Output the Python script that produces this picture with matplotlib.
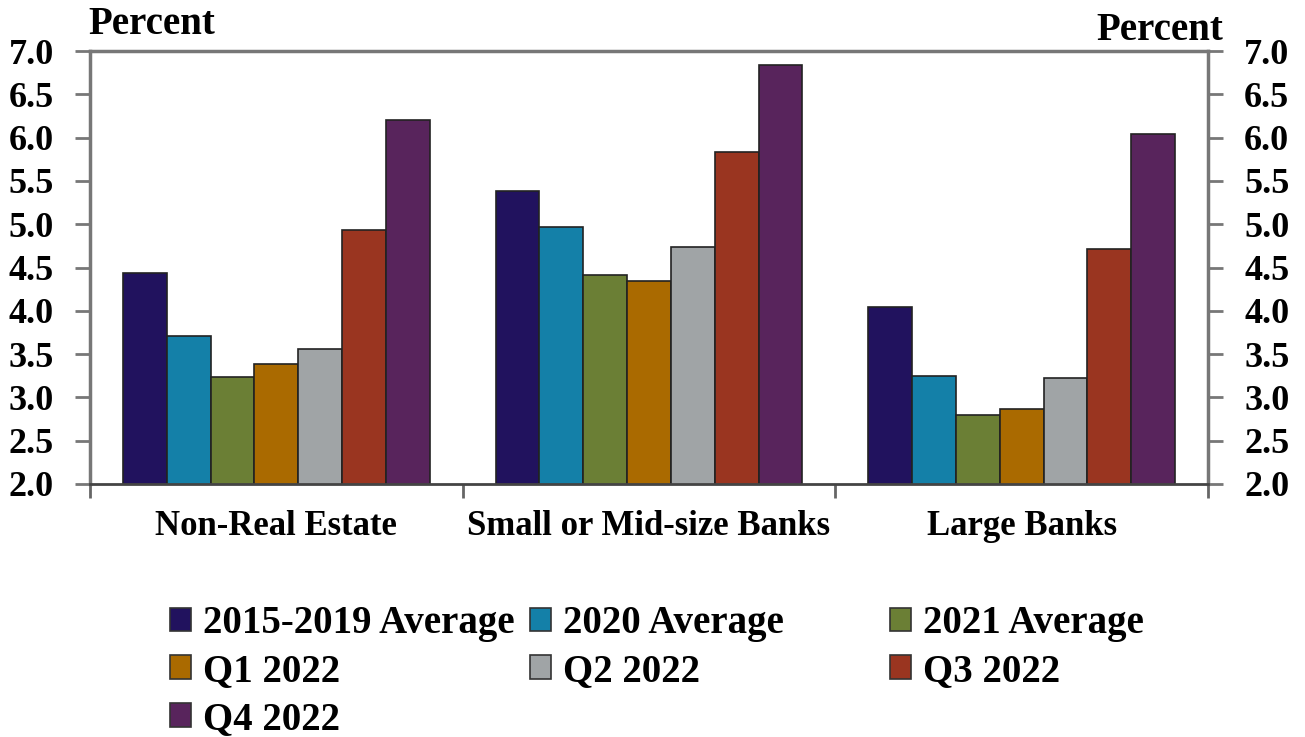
import numpy as np
import matplotlib
matplotlib.use('Agg')
import matplotlib.pyplot as plt
from matplotlib.patches import Patch

categories = ['Non-Real Estate', 'Small or Mid-size Banks', 'Large Banks']
series_names = ['2015-2019 Average', '2020 Average', '2021 Average',
                'Q1 2022', 'Q2 2022', 'Q3 2022', 'Q4 2022']

avg_2015_2019 = [4.44, 5.38, 4.04]
avg_2020 = [3.71, 4.97, 3.25]
avg_2021 = [3.24, 4.41, 2.80]
q1_2022 = [3.38, 4.34, 2.87]
q2_2022 = [3.56, 4.74, 3.22]
q3_2022 = [4.93, 5.83, 4.71]
q4_2022 = [6.20, 6.84, 6.04]

series = [avg_2015_2019, avg_2020, avg_2021, q1_2022, q2_2022, q3_2022, q4_2022]
colors = ['#21125E', '#1480A8', '#6B7F35', '#AA6A00', '#A0A4A6', '#9A3520', '#58245C']

plt.rcParams['font.family'] = ['Liberation Serif', 'DejaVu Serif']
plt.rcParams['font.weight'] = 'bold'
FS = 26

fig = plt.figure(figsize=(13.05, 7.37), dpi=100)
ax = fig.add_axes([90 / 1305, 1 - 484 / 737, (1208 - 90) / 1305, (484 - 51) / 737])

x = np.arange(len(categories)) + 0.5
w = 0.1176
for i, (vals, c) in enumerate(zip(series, colors)):
    ax.bar(x + (i - 3) * w, vals, width=w, color=c, edgecolor='#222222',
           linewidth=1.2, zorder=2)

ax.set_xlim(0, 3)
ax.set_ylim(2.0, 7.0)
yt = np.arange(2.0, 7.01, 0.5)
ax.set_yticks(yt)
ax.set_yticklabels([f'{v:.1f}' for v in yt], fontsize=FS)
ax.tick_params(axis='y', direction='out', length=11, width=2, color='#777777',
               pad=15, left=True, right=True, labelleft=True, labelright=True)
for lab in ax.get_yticklabels():
    lab.set_fontweight('bold')

ax.set_xticks([0, 1, 2, 3])
ax.set_xticklabels([])
ax.set_xticks(x, minor=True)
ax.set_xticklabels(categories, minor=True, fontsize=25, fontweight='bold')
ax.tick_params(axis='x', which='major', direction='out', length=10, width=2,
               color='#666666')
ax.tick_params(axis='x', which='minor', length=0, pad=19)

for side in ['left', 'right', 'top']:
    ax.spines[side].set_color('#777777')
    ax.spines[side].set_linewidth(2.5)
ax.spines['bottom'].set_color('#444444')
ax.spines['bottom'].set_linewidth(2)

fig.text(88 / 1305, 1 - 25 / 737, 'Percent', fontsize=28, fontweight='bold',
         ha='left', va='center')
fig.text(1223 / 1305, 1 - 30 / 737, 'Percent', fontsize=28, fontweight='bold',
         ha='right', va='center')

handles = [Patch(facecolor=c, edgecolor='#333333', linewidth=1.2) for c in colors]
col_items = [[0, 3, 6], [1, 4], [2, 5]]
col_x = [170, 530, 890]
LFS = 28
for items, cx in zip(col_items, col_x):
    fig.legend([handles[k] for k in items], [series_names[k] for k in items],
               loc='upper left', bbox_to_anchor=(cx / 1305, 1 - 605 / 737),
               frameon=False, borderpad=0, borderaxespad=0,
               handlelength=0.55, handleheight=0.55, handletextpad=0.3,
               labelspacing=0.28, prop={'weight': 'bold', 'size': LFS})

fig.savefig('out.png', dpi=100)
